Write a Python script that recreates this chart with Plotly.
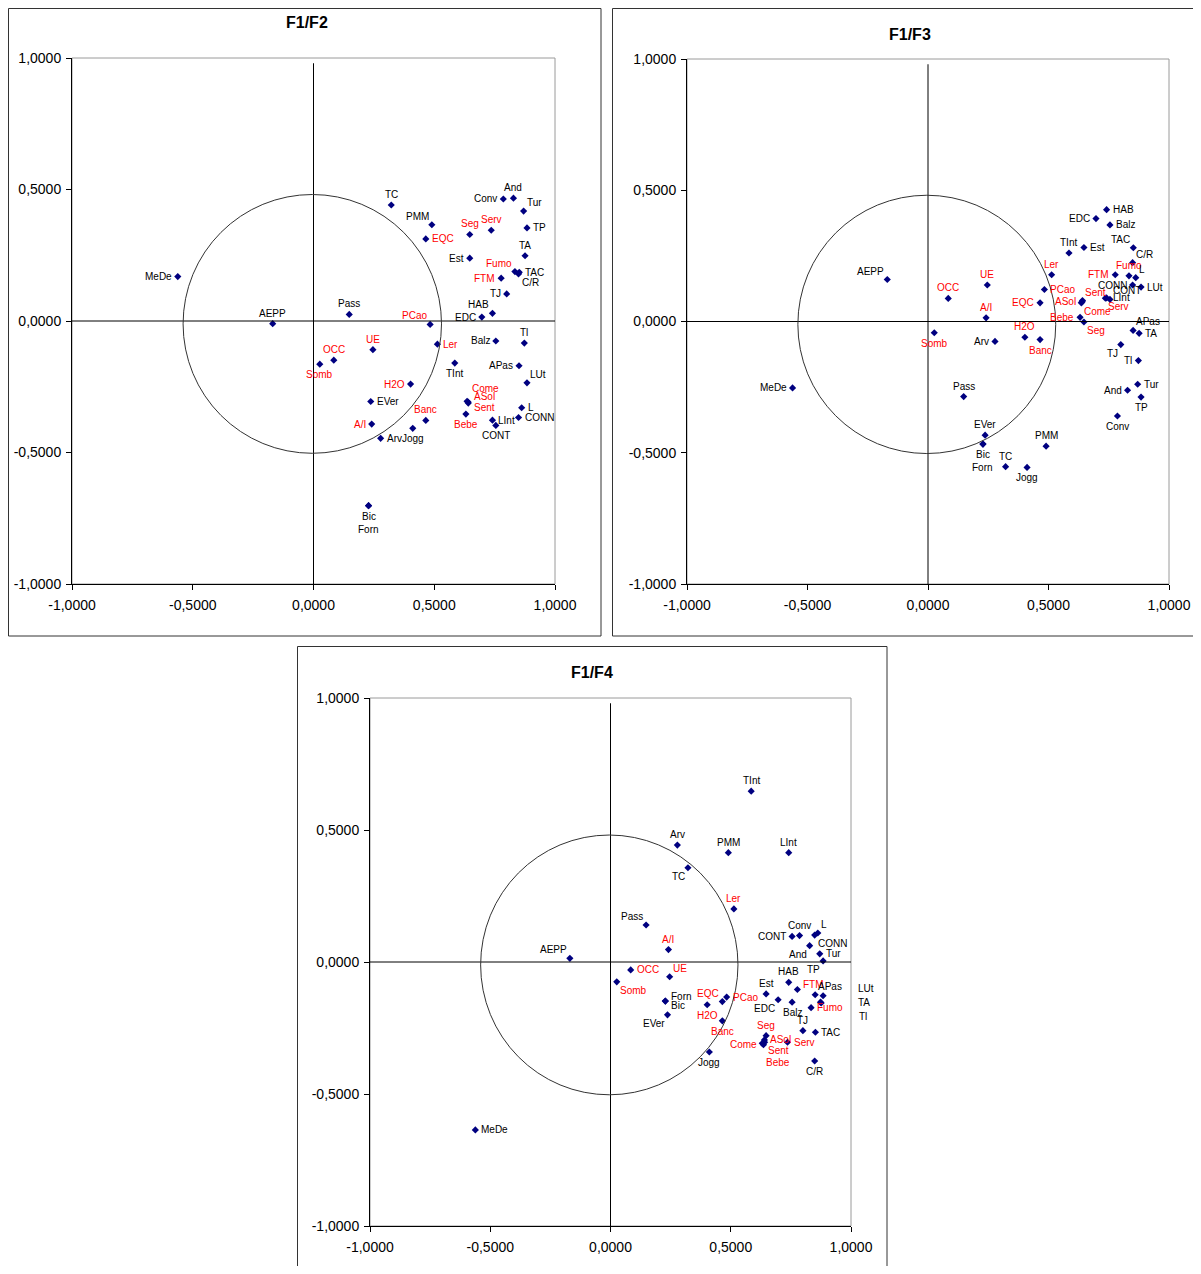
import plotly.graph_objects as go

# variables (same order in every array)
names = ["TC", "PMM", "EQC", "Seg", "Serv", "Conv", "And", "Tur", "TP", "TA",
         "Est", "Fumo", "TAC", "C/R", "FTM", "TJ", "HAB", "EDC", "PCao", "Pass",
         "AEPP", "MeDe", "Ler", "Balz", "Tl", "UE", "OCC", "Somb", "H2O", "EVer",
         "A/I", "Arv", "Jogg", "Banc", "TInt", "Come", "ASol", "Sent", "Bebe", "APas",
         "LUt", "L", "CONN", "LInt", "CONT", "Bic", "Forn"]

red_names = ["EQC", "Seg", "Serv", "Fumo", "FTM", "PCao", "Ler", "UE", "OCC", "Somb",
             "H2O", "A/I", "Banc", "Come", "ASol", "Sent", "Bebe"]

f1 = [0.322, 0.490, 0.465, 0.647, 0.736, 0.786, 0.828, 0.870, 0.884, 0.876,
      0.647, 0.834, 0.852, 0.849, 0.777, 0.800, 0.741, 0.697, 0.483, 0.148,
      -0.169, -0.562, 0.513, 0.755, 0.873, 0.246, 0.084, 0.026, 0.402, 0.237,
      0.241, 0.278, 0.411, 0.465, 0.585, 0.636, 0.640, 0.641, 0.631, 0.851,
      0.884, 0.862, 0.849, 0.741, 0.755, 0.228, 0.228]

f2 = [0.441, 0.366, 0.312, 0.329, 0.345, 0.464, 0.467, 0.418, 0.354, 0.248,
      0.239, 0.188, 0.185, 0.179, 0.163, 0.103, 0.029, 0.015, -0.013, 0.025,
      -0.010, 0.169, -0.088, -0.076, -0.084, -0.109, -0.149, -0.164, -0.240, -0.306,
      -0.392, -0.446, -0.408, -0.378, -0.160, -0.305, -0.308, -0.312, -0.354, -0.170,
      -0.235, -0.330, -0.367, -0.377, -0.397, -0.702, -0.702]

f3 = [-0.553, -0.475, 0.071, -0.002, 0.089, -0.360, -0.262, -0.239, -0.288, -0.045,
      0.282, 0.174, 0.281, 0.224, 0.178, -0.088, 0.426, 0.392, 0.122, -0.286,
      0.160, -0.253, 0.178, 0.368, -0.149, 0.139, 0.088, -0.043, -0.060, -0.433,
      0.014, -0.076, -0.556, -0.069, 0.261, 0.071, 0.075, 0.080, 0.016, -0.034,
      0.131, 0.167, 0.139, 0.090, 0.084, -0.467, -0.467]

f4 = [0.357, 0.414, -0.150, -0.279, -0.304, 0.100, 0.062, 0.031, 0.004, -0.155,
      -0.121, -0.173, -0.266, -0.375, -0.104, -0.260, -0.077, -0.143, -0.133, 0.140,
      0.014, -0.636, 0.201, -0.152, -0.152, -0.056, -0.030, -0.075, -0.162, -0.200,
      0.047, 0.443, -0.341, -0.223, 0.647, -0.313, -0.295, -0.304, -0.308, -0.124,
      -0.128, 0.110, 0.102, 0.414, 0.097, -0.148, -0.148]

ticks = [-1.0, -0.5, 0.0, 0.5, 1.0]

# label placement for each panel
pos_f2 = ["T", "TL", "R", "T", "T", "L", "T", "TR", "R", "T",
          "L", "TL", "R", "BR", "L", "L", "TL", "L", "TL", "T",
          "T", "L", "R", "L", "T", "T", "T", "B", "L", "R",
          "L", "R", "B", "T", "B", "Ruu", "Ru", "Rd", "B", "L",
          "TR", "R", "R", "R", "B", "B", "B2"]
pos_f3 = ["T", "T", "L", "BR", "BR", "B", "L", "R", "B", "R",
          "R", "T", "TL", "TR", "L", "BL", "R", "L", "R", "T",
          "TL", "L", "T", "R", "L", "T", "T", "B", "T", "T",
          "T", "L", "B", "B", "T", "BR", "L", "TR", "L", "TR",
          "R", "TR", "L", "R", "TR", "B", "B2"]
pos_f4 = ["BL", "T", "TL", "T", "R", "T", "BL", "R", "BL", "X2",
          "T", "R", "R", "B", "Ru", "T", "T", "BL", "R", "TL",
          "TL", "R", "T", "B", "X3", "TR", "R", "BR", "B", "BL",
          "T", "T", "B", "B", "T", "L", "R", "BR", "BR2", "TR",
          "X1", "TR", "BR", "T", "L", "Rd", "Ru"]

OFF = {
    "T": ("center", "bottom", 0, 3),
    "B": ("center", "top", 0, -3),
    "L": ("right", "middle", -4, 0),
    "R": ("left", "middle", 4, 0),
    "TL": ("right", "bottom", -1, 1),
    "TR": ("left", "bottom", 1, 1),
    "BL": ("right", "top", -1, -1),
    "BR": ("left", "top", 1, -1),
    "B2": ("center", "top", 0, -16),
    "Ru": ("left", "middle", 4, 5),
    "Rd": ("left", "middle", 4, -4),
    "Ruu": ("left", "middle", 3, 13),
    "BR2": ("left", "top", 2, -12),
    "X1": ("center", "middle", 43, 7),
    "X2": ("center", "middle", 43, 0),
    "X3": ("center", "middle", 43, -14),
}

# the page body has an 8px margin, so the figure is made smaller and
# every screen position below is shifted by that margin (no scrollbars)
PAGE_OFF = 8
W, H = 1201 - PAGE_OFF, 1274 - 2 * PAGE_OFF
FONT = "Liberation Sans, Arial, sans-serif"

def px(x):
    return (x - PAGE_OFF) / W

def py(y):
    return 1 - (y - PAGE_OFF) / H

panels = [
    # (title, y values, label positions, x domain px, y domain px, title pos, frame)
    ("F1/F2", f2, pos_f2, (72, 555), (58, 584), (307, 23), (8.5, 8.5, 601, 636)),
    ("F1/F3", f3, pos_f3, (687, 1169), (59, 584), (910, 35), (612.5, 8.5, 1197.5, 636)),
    ("F1/F4", f4, pos_f4, (370, 851), (698, 1226), (592, 673), (297.5, 646.5, 887, 1273.5)),
]

tick_text = [f"{v:.4f}".replace(".", ",") for v in ticks]
colors = ["#FF0000" if n in red_names else "#000000" for n in names]

fig = go.Figure()
annotations = []
shapes = []

for k, (title, fy, pos, xd, yd, tpos, frame) in enumerate(panels):
    sfx = "" if k == 0 else str(k + 1)
    xref, yref = "x" + sfx, "y" + sfx

    fig.add_trace(go.Scatter(
        x=f1, y=fy, mode="markers", xaxis=xref, yaxis=yref,
        marker=dict(symbol="diamond", size=5.5, color="#000080"),
        showlegend=False, hoverinfo="skip"))

    for i, n in enumerate(names):
        xa, ya, dx, dy = OFF[pos[i]]
        annotations.append(dict(
            x=f1[i], y=fy[i], xref=xref, yref=yref, text=n, showarrow=False,
            xanchor=xa, yanchor=ya, xshift=dx, yshift=dy,
            font=dict(family=FONT, size=10, color=colors[i])))

    annotations.append(dict(
        x=px(tpos[0]), y=py(tpos[1]), xref="paper", yref="paper",
        text="<b>" + title + "</b>", showarrow=False,
        xanchor="center", yanchor="middle",
        font=dict(family=FONT, size=16, color="#000000")))

    # outer frame of the chart
    shapes.append(dict(type="rect", xref="paper", yref="paper",
                       x0=px(frame[0]), x1=px(frame[2]),
                       y0=py(frame[3]), y1=py(frame[1]),
                       line=dict(color="#333333", width=1)))
    # plot area border
    shapes.append(dict(type="rect", xref=xref + " domain", yref=yref + " domain",
                       x0=0, x1=1, y0=0, y1=1, layer="below",
                       line=dict(color="#9a9a9a", width=1)))
    # zero lines
    shapes.append(dict(type="line", xref=xref, yref=yref, x0=0, x1=0, y0=-1, y1=0.98,
                       line=dict(color="#000000", width=1)))
    shapes.append(dict(type="line", xref=xref, yref=yref, x0=-1, x1=1, y0=0, y1=0,
                       line=dict(color="#000000", width=1)))
    # correlation circle
    shapes.append(dict(type="circle", xref=xref, yref=yref,
                       x0=-0.54, x1=0.53, y0=-0.503, y1=0.481,
                       line=dict(color="#333333", width=1)))

    axis_common = dict(range=[-1, 1], tickvals=ticks, ticktext=tick_text,
                       showgrid=False, zeroline=False, showline=True,
                       linecolor="#000000", linewidth=1, ticks="outside",
                       ticklen=5, tickcolor="#000000", automargin=False,
                       tickfont=dict(family=FONT, size=14, color="#000000"))
    fig.layout["xaxis" + sfx] = dict(axis_common, domain=[px(xd[0]), px(xd[1])],
                                     anchor=yref, ticklabelstandoff=3)
    fig.layout["yaxis" + sfx] = dict(axis_common, domain=[py(yd[1]), py(yd[0])],
                                     anchor=xref, ticklabelstandoff=2)

fig.update_layout(
    width=W, height=H,
    margin=dict(l=0, r=0, t=0, b=0, autoexpand=False),
    paper_bgcolor="white", plot_bgcolor="white",
    annotations=annotations, shapes=shapes,
    font=dict(family=FONT),
)

fig.write_html("out.html")
